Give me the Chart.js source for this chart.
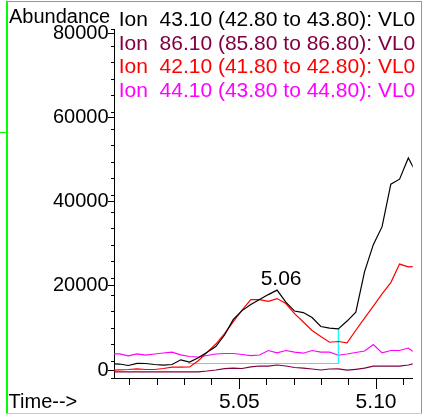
<!DOCTYPE html>
<html><head><meta charset="utf-8">
<script src="https://cdn.jsdelivr.net/npm/chart.js@4/dist/chart.umd.min.js"></script>
<style>
html,body{margin:0;padding:0;background:#fff;}
#wrap{position:relative;width:423px;height:414px;overflow:hidden;background:#fff;}
#c{position:absolute;left:0;top:0;}
.t{position:absolute;font-family:'Liberation Sans',Arial,sans-serif;white-space:pre;}
.f20{font-size:20px;line-height:20px;}
.f21{font-size:21px;line-height:21px;}
#frame{position:absolute;left:6px;top:1px;width:416px;height:413px;box-sizing:border-box;border-top:1px solid #00ff00;border-left:2px solid #00ff00;border-right:1px solid #00ff00;border-bottom:1px solid #80ff80;}
#nub{position:absolute;left:0;top:132px;width:7px;height:1px;background:#00ff00;}
</style></head><body>
<div id="wrap">
<canvas id="c" width="423" height="414"></canvas>
<div id="frame"></div>
<div id="nub"></div>
<div class="t f20" style="left:9px;top:5.8px;color:#000">Abundance</div>
<div id="legend"></div>
<div class="t f20" style="left:8.6px;top:391.4px;color:#000">Time--&gt;</div>
</div>
<script>
// ---- data ----
const times = [5.0030, 5.0062, 5.0094, 5.0126, 5.0158, 5.0190, 5.0222, 5.0254, 5.0286, 5.0318,
  5.0350, 5.0382, 5.0414, 5.0446, 5.0478, 5.0510, 5.0542, 5.0574, 5.0606, 5.0638,
  5.0670, 5.0702, 5.0734, 5.0766, 5.0798, 5.0830, 5.0862, 5.0894, 5.0926, 5.0958,
  5.0990, 5.1022, 5.1054, 5.1086, 5.1118, 5.1150];
const ion43 = [1350, 1300, 950, 1470, 1420, 1190, 1020, 1190, 2300, 1780,
  2800, 4080, 5460, 8190, 11920, 14000, 15430, 16620, 17800, 18870,
  16020, 13890, 13530, 12340, 10210, 9850, 9660, 11510, 13640, 23270,
  29670, 33950, 44040, 45230, 50260, 46390];
const ion86 = [-550, -550, -550, -550, -550, -550, -550, -550, -550, -550,
  -550, -360, -120, 190, 310, 240, 640, 830, 780, 1070,
  830, 470, 310, 120, -120, 120, 170, -170, 50, 310,
  780, 780, 780, 780, 1070, 1540];
const ion42 = [-200, -100, 0, 170, 0, 0, 240, 550, 550, 600,
  2090, 4080, 6050, 8550, 11400, 14130, 16620, 16620, 16210, 16850,
  15670, 13290, 11280, 9260, 7830, 6480, 6650, 6340, 9330, 12230,
  15070, 17970, 20650, 25050, 24380, 24520];
const ion44 = [3730, 3730, 3250, 3730, 3440, 3680, 3920, 4110, 3490, 3090,
  2970, 3320, 3680, 3800, 3800, 3560, 3320, 3440, 4510, 3960,
  4510, 4150, 3870, 4510, 4110, 4110, 3390, 3680, 4040, 4390,
  5940, 3960, 4510, 4510, 5100, 3560];
const baselineTimes = [5.0312, 5.0862, 5.0862];
const baselineValues = [1420, 1420, 9660];
const legendLabels = [
  'Ion  43.10 (42.80 to 43.80): VL0',
  'Ion  86.10 (85.80 to 86.80): VL0',
  'Ion  42.10 (41.80 to 42.80): VL0',
  'Ion  44.10 (43.80 to 44.80): VL0'];
const seriesColors = ['#000000', '#800040', '#ff0000', '#ff00ff'];
const peakTime = 5.0638, peakValue = 18870, peakLabel = '5.06';
const xMajorTicks = [5.05, 5.10];
const yTickLabels = [0, 20000, 40000, 60000, 80000];

// legend (text)
const lg = document.getElementById('legend');
legendLabels.forEach((s, i) => {
  const d = document.createElement('div');
  d.className = 't f21';
  d.style.left = '118.7px';
  d.style.top = (7.9 + i * 23.67) + 'px';
  d.style.color = seriesColors[i];
  d.textContent = s;
  lg.appendChild(d);
});

const pts = (xs, ys) => xs.map((x, i) => ({x: x, y: ys[i]}));
const FONT = "'Liberation Sans', Arial, sans-serif";

const extras = {
  id: 'extras',
  afterDraw(chart) {
    const ctx = chart.ctx, xs = chart.scales.x, ys = chart.scales.y;
    ctx.save();
    ctx.strokeStyle = '#000'; ctx.lineWidth = 1;
    xMajorTicks.forEach(v => {
      const px = Math.round(xs.getPixelForValue(v)) + 0.5;
      ctx.beginPath(); ctx.moveTo(px, xs.top); ctx.lineTo(px, xs.top + 11); ctx.stroke();
    });
    ctx.fillStyle = '#000';
    ctx.font = '20px ' + FONT;
    ctx.textAlign = 'right'; ctx.textBaseline = 'middle';
    yTickLabels.forEach(v => {
      const py = Math.round(ys.getPixelForValue(v)) + 0.5;
      ctx.beginPath(); ctx.moveTo(ys.right - 6, py); ctx.lineTo(ys.right, py); ctx.stroke();
      ctx.fillText(String(v), ys.right - 5.5, py);
    });
    ctx.font = '21px ' + FONT;
    ctx.textAlign = 'center'; ctx.textBaseline = 'alphabetic';
    ctx.fillText(peakLabel, xs.getPixelForValue(peakTime) + 4, ys.getPixelForValue(peakValue) - 5.5);
    ctx.restore();
  }
};

new Chart(document.getElementById('c'), {
  type: 'line',
  data: {
    datasets: [
      {data: pts(times, ion43), borderColor: seriesColors[0]},
      {data: pts(times, ion42), borderColor: seriesColors[2]},
      {data: pts(baselineTimes, baselineValues), borderColor: '#00ffff'},
      {data: pts(times, ion44), borderColor: seriesColors[3]},
      {data: pts(times, ion86), borderColor: seriesColors[1]}
    ].map(d => Object.assign(d, {borderWidth: 1.2, pointRadius: 0, tension: 0, fill: false}))
  },
  options: {
    responsive: false, animation: false,
    layout: {padding: {top: 29.5, right: 10.3, left: 0, bottom: 0}},
    plugins: {legend: {display: false}, tooltip: {enabled: false}},
    scales: {
      x: {
        type: 'linear', min: 5.00417, max: 5.1134,
        afterFit: s => { s.height = 36; },
        border: {display: true, color: '#000', width: 1},
        grid: {display: true, drawOnChartArea: false, drawTicks: true, tickLength: 7, color: '#000'},
        ticks: {
          stepSize: 0.01, includeBounds: false, autoSkip: false, maxRotation: 0, padding: 5,
          color: '#000', font: {family: FONT, size: 21},
          callback: v => (xMajorTicks.some(m => Math.abs(m - v) < 1e-6) ? v.toFixed(2) : '')
        }
      },
      y: {
        type: 'linear', min: -2020, max: 80800,
        afterFit: s => { s.width = 114; },
        border: {display: true, color: '#000', width: 1},
        grid: {display: true, drawOnChartArea: false, drawTicks: true, tickLength: 3, color: '#000'},
        ticks: {
          display: false, stepSize: 4000, includeBounds: false, autoSkip: false
        }
      }
    }
  },
  plugins: [extras]
});
</script>
</body></html>
